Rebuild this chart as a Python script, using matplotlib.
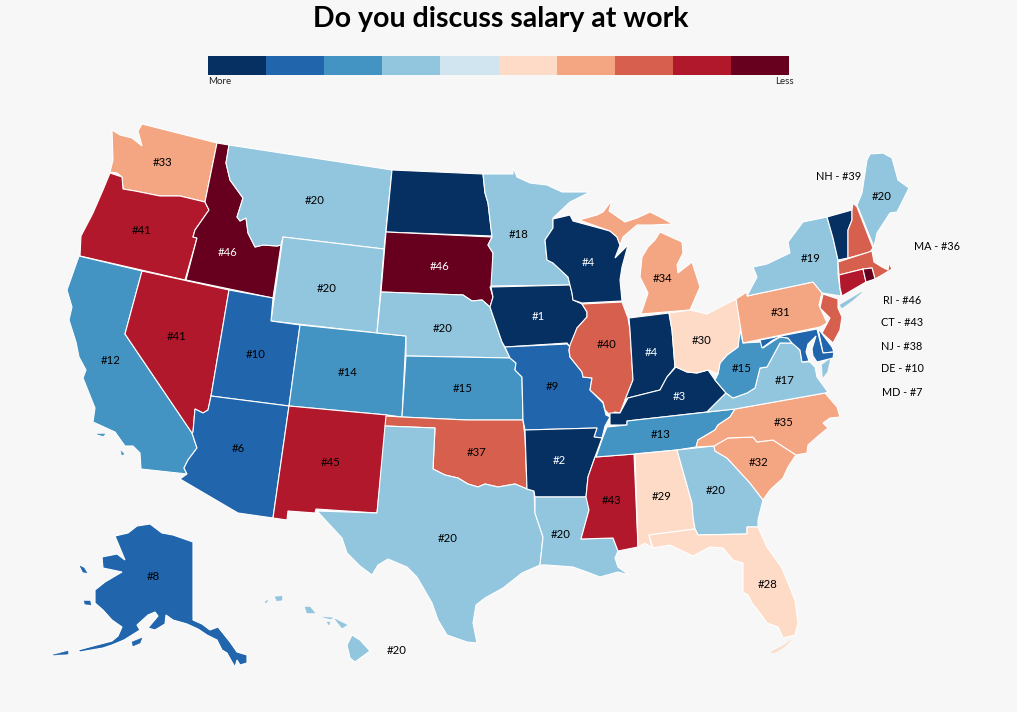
import matplotlib
matplotlib.use("Agg")
import matplotlib.pyplot as plt

title = "Do you discuss salary at work"
scale_colors = ["#053061", "#2166ac", "#4393c3", "#92c5de", "#d1e5f0",
                "#fddbc7", "#f4a582", "#d6604d", "#b2182b", "#67001f"]
scale_tops = [5, 11, 16, 21, 26, 30, 35, 40, 45, 50]
bg = "#f7f7f7"

# rank of each state
ranks = {
    "WA": 33, "OR": 41, "CA": 12, "NV": 41, "ID": 46, "MT": 20, "WY": 20, "UT": 10,
    "AZ": 6, "CO": 14, "NM": 45, "ND": 4, "SD": 46, "NE": 20, "KS": 15, "OK": 37,
    "TX": 20, "MN": 18, "IA": 1, "MO": 9, "AR": 2, "LA": 20, "WI": 4, "IL": 40,
    "MS": 43, "MI": 34, "IN": 4, "KY": 3, "TN": 13, "AL": 29, "OH": 30, "GA": 20,
    "FL": 28, "SC": 32, "NC": 35, "VA": 17, "WV": 15, "PA": 31, "NY": 19, "VT": 4,
    "NH": 39, "ME": 20, "MA": 36, "CT": 43, "RI": 46, "NJ": 38, "DE": 10, "MD": 7,
    "AK": 8, "HI": 20,
}

# state outlines, traced in picture pixels
outlines = {
    "WA": [[(142,124),(217,143),(205,202),(180,196),(160,196),(135,191),(123,189),(122,177),(117,173),(110,172),(113,160),(112,130),(120,135),(132,138),(142,146),(138,131)]],
    "OR": [[(110,173),(122,177),(123,189),(135,191),(160,196),(180,196),(205,202),(209,210),(195,230),(193,237),(197,238),(185,280),(80,256),(81,236),(93,213),(103,190)]],
    "CA": [[(79,256),(142,271),(125,334),(192,433),(197,448),(188,460),(184,468),(187,474),(141,469),(140,453),(133,446),(125,446),(115,432),(93,422),(95,408),(83,378),(86,370),(79,357),(76,342),(69,320),(72,307),(67,290)],
           [(97,434),(105,434),(103,436)],
           [(121,451),(124,454),(122,455)]],
    "NV": [[(142,271),(229,290),(211,396),(208,410),(203,413),(195,409),(193,432),(192,433),(125,334)]],
    "ID": [[(217,143),(229,145),(226,163),(230,180),(243,198),(237,217),(240,221),(246,218),(248,233),(255,247),(263,245),(277,246),(281,245),(273,298),(186,280),(197,238),(193,237),(195,230),(209,210),(205,202)]],
    "MT": [[(229,145),(392,170),(384,249),(283,237),(281,245),(277,246),(263,245),(255,247),(248,233),(246,218),(240,221),(237,217),(243,198),(230,180),(226,163)]],
    "WY": [[(283,237),(384,249),(377,333),(271,321)]],
    "UT": [[(229,290),(273,298),(271,321),(300,325),(289,406),(211,396)]],
    "AZ": [[(211,396),(289,406),(273,518),(238,513),(180,479),(187,474),(184,468),(188,460),(197,448),(192,433),(193,432),(195,409),(203,413),(208,410)]],
    "CO": [[(300,325),(377,333),(406,336),(402,417),(387,415),(289,406)]],
    "NM": [[(289,406),(387,415),(386,426),(377,513),(316,509),(315,513),(288,511),(287,520),(273,518)]],
    "ND": [[(392,170),(483,174),(485,193),(488,203),(492,236),(386,232)]],
    "SD": [[(386,232),(492,237),(488,245),(493,253),(494,285),(490,287),(493,297),(490,307),(482,300),(472,301),(463,295),(381,292)]],
    "NE": [[(381,292),(463,295),(472,301),(482,300),(490,307),(502,342),(505,348),(510,358),(406,356),(406,336),(377,333)]],
    "KS": [[(406,356),(510,358),(516,363),(515,370),(522,377),(523,420),(467,420),(402,417)]],
    "OK": [[(386,416),(402,417),(467,420),(523,420),(525,437),(527,489),(515,484),(498,487),(485,484),(478,487),(468,484),(458,478),(445,475),(433,469),(435,428),(385,426)]],
    "TX": [[(385,426),(435,428),(433,469),(445,475),(458,478),(468,484),(478,487),(485,484),(498,487),(515,484),(527,489),(534,491),(535,513),(543,537),(540,565),(522,573),(503,588),(485,598),(476,605),(473,623),(477,643),(467,642),(447,635),(438,620),(432,603),(417,577),(407,567),(388,559),(378,565),(372,575),(360,566),(347,553),(342,538),(317,511),(377,513)]],
    "MN": [[(483,174),(513,174),(513,167),(517,177),(530,183),(547,185),(562,192),(590,192),(570,202),(553,218),(553,228),(545,240),(547,260),(553,263),(568,277),(570,285),(491,286),(493,253),(488,245),(492,237),(488,203),(485,193)]],
    "IA": [[(491,287),(570,285),(572,293),(573,300),(582,304),(587,312),(587,317),(577,328),(570,347),(567,343),(505,347),(502,342),(490,307),(493,297)]],
    "MO": [[(505,347),(567,344),(570,347),(569,350),(570,357),(582,372),(583,377),(592,378),(590,390),(603,403),(606,415),(610,417),(605,426),(602,438),(594,437),(597,428),(525,430),(523,420),(522,377),(515,370),(516,363),(510,358)]],
    "AR": [[(525,430),(597,428),(594,437),(602,438),(595,457),(588,477),(586,497),(535,497),(534,491),(527,489)]],
    "LA": [[(535,497),(587,497),(589,510),(581,539),(613,538),(618,551),(615,558),(618,567),(629,575),(618,572),(600,577),(587,572),(573,567),(547,565),(540,565),(543,537),(535,513)]],
    "WI": [[(553,219),(570,215),(573,221),(610,231),(617,237),(620,245),(615,258),(628,245),(622,267),(620,280),(622,301),(582,303),(573,300),(572,293),(570,285),(568,277),(553,263),(547,260),(545,240),(553,228)]],
    "IL": [[(582,304),(622,302),(628,318),(630,330),(633,380),(625,400),(620,413),(615,412),(610,415),(605,410),(603,402),(590,390),(592,378),(583,377),(582,372),(570,357),(569,350),(570,345),(577,328),(587,317),(587,312)]],
    "MS": [[(595,457),(634,454),(638,547),(618,551),(613,538),(581,539),(589,510),(586,497),(588,477)]],
    "MI": [[(579,220),(597,215),(603,212),(612,200),(609,211),(625,222),(637,218),(650,212),(660,217),(673,224),(652,225),(637,225),(623,237),(620,245),(617,237),(610,231)],
           [(660,232),(682,242),(683,253),(677,265),(678,273),(692,262),(700,287),(690,310),(641,314),(648,293),(640,277),(642,257),(648,247),(655,240)]],
    "IN": [[(629,318),(669,313),(672,330),(675,367),(667,377),(660,390),(652,392),(640,395),(628,398),(625,400),(633,380),(630,330)]],
    "KY": [[(610,413),(620,413),(628,398),(640,395),(652,392),(660,390),(667,377),(676,367),(687,372),(697,373),(708,370),(715,380),(726,393),(707,412),(627,421),(627,425),(610,425)]],
    "TN": [[(607,427),(627,425),(627,421),(735,409),(730,417),(718,425),(715,430),(698,440),(696,447),(677,450),(635,454),(596,457),(603,437)]],
    "AL": [[(635,454),(677,450),(692,503),(693,517),(695,529),(649,535),(652,548),(645,543),(638,547)]],
    "GA": [[(677,450),(714,446),(715,451),(727,458),(750,483),(763,500),(758,520),(758,527),(747,527),(747,534),(698,535),(695,529),(693,517),(692,503)]],
    "FL": [[(649,535),(695,529),(698,535),(747,534),(747,527),(758,527),(767,547),(782,568),(795,600),(798,623),(795,635),(783,638),(778,627),(767,623),(760,613),(752,603),(748,595),(743,592),(743,563),(733,560),(723,548),(710,547),(693,556),(670,545),(653,548)],
           [(771,652),(783,646),(791,640),(784,647),(774,653)]],
    "SC": [[(714,446),(728,438),(753,437),(757,442),(773,440),(796,455),(788,467),(783,478),(770,490),(763,500),(750,483),(727,458),(715,451)]],
    "NC": [[(735,409),(825,393),(837,407),(840,417),(830,418),(823,423),(828,428),(817,437),(808,445),(807,453),(796,455),(773,440),(757,442),(753,437),(728,438),(714,446),(696,447),(698,440),(715,430),(718,425),(730,417)]],
    "VA": [[(707,412),(726,393),(733,398),(747,393),(755,388),(760,368),(767,367),(780,343),(792,343),(800,350),(802,362),(810,362),(815,367),(817,377),(825,388),(828,392),(825,393),(735,409)],
           [(830,359),(822,365),(823,377),(827,372)]],
    "WV": [[(739,325),(743,343),(761,342),(763,348),(775,340),(780,337),(788,338),(792,343),(780,343),(767,367),(760,368),(755,388),(747,393),(733,398),(726,393),(715,380),(718,374),(720,363),(727,355),(738,347)]],
    "OH": [[(669,313),(690,310),(707,314),(736,299),(741,325),(738,347),(727,355),(720,363),(718,374),(708,370),(697,373),(687,372),(676,367),(675,367),(672,330)]],
    "PA": [[(736,299),(747,292),(747,296),(813,282),(822,293),(819,305),(827,323),(820,327),(743,343)]],
    "NY": [[(747,296),(757,277),(753,267),(767,264),(790,253),(788,242),(803,222),(827,217),(833,238),(838,260),(838,274),(841,296),(822,293),(813,282)],
           [(840,305),(862,292),(853,300),(842,308)]],
    "VT": [[(827,217),(852,210),(852,220),(848,230),(848,258),(838,260),(833,238)]],
    "NH": [[(853,203),(857,207),(873,248),(870,252),(848,258),(848,230),(852,220),(852,210)]],
    "ME": [[(857,205),(862,193),(867,160),(870,154),(883,153),(892,158),(898,180),(909,188),(897,212),(890,213),(877,233),(874,247)]],
    "MA": [[(838,262),(872,251),(874,262),(882,267),(888,270),(889,263),(892,269),(882,275),(875,279),(872,268),(863,269),(839,275)]],
    "CT": [[(839,275),(863,269),(866,282),(842,296),(840,288)]],
    "RI": [[(863,269),(872,268),(875,279),(866,282)]],
    "NJ": [[(823,294),(838,299),(838,308),(842,317),(840,330),(833,343),(822,333),(830,318),(820,308)]],
    "DE": [[(818,328),(823,335),(832,347),(834,352),(823,353)]],
    "MD": [[(760,340),(817,329),(823,353),(834,352),(833,358),(817,362),(813,356),(812,349),(816,336),(808,344),(806,352),(809,361),(802,362),(800,350),(792,343),(788,338),(780,337),(773,340),(762,348)]],
    "AK": [[(115,536),(128,533),(137,526),(150,524),(162,533),(173,535),(193,542),(193,620),(202,624),(210,630),(218,627),(222,632),(230,642),(237,652),(247,655),(247,663),(240,665),(237,660),(235,667),(232,662),(227,653),(222,650),(217,640),(207,635),(198,629),(187,624),(173,620),(166,615),(165,624),(155,630),(148,628),(158,616),(155,612),(148,615),(137,625),(140,630),(124,640),(112,645),(103,648),(80,652),(78,650),(93,646),(112,641),(118,636),(122,627),(112,620),(103,610),(95,603),(95,590),(105,582),(122,572),(103,568),(102,557),(117,554),(125,560)],
           [(132,642),(142,638),(140,643),(133,646)],
           [(84,601),(90,601),(91,605),(85,604)],
           [(80,566),(84,568),(87,573),(83,572)],
           [(53,655),(68,651),(68,654),(55,655)]],
    "HI": [[(347,645),(352,635),(360,640),(370,651),(355,662),(350,658)],
           [(335,619),(347,625),(342,628)],
           [(323,617),(333,618),(330,619)],
           [(327,622),(330,622),(329,625)],
           [(305,607),(310,607),(315,613),(307,613)],
           [(275,597),(282,596),(282,600),(277,601)],
           [(265,602),(268,600),(266,603)]],
}

# where the rank labels sit
labels = {
    "WA": (163,163), "OR": (142,231), "CA": (111,360), "NV": (177,336), "ID": (228,252),
    "MT": (315,200), "WY": (327,288), "UT": (256,354), "AZ": (238,449), "CO": (348,372),
    "NM": (331,462), "SD": (440,267), "NE": (443,328), "KS": (463,388), "OK": (477,452),
    "TX": (448,538), "MN": (519,235), "IA": (538,316), "MO": (552,386), "AR": (559,460),
    "LA": (561,535), "WI": (588,262), "IL": (607,344), "MS": (612,501), "MI": (663,279),
    "IN": (651,353), "KY": (679,397), "TN": (661,434), "AL": (662,496), "OH": (702,341),
    "GA": (716,491), "FL": (768,585), "SC": (759,463), "NC": (784,423), "VA": (785,381),
    "WV": (742,368), "PA": (781,313), "NY": (811,258), "ME": (882,196), "AK": (153,576),
    "HI": (397,651),
}
white_labels = ["ID", "SD", "IA", "AR", "WI", "IN", "KY"]

# small states get their label outside the map
side_labels = {"NH": (839,177), "MA": (937,246), "RI": (902,300), "CT": (902,322),
               "NJ": (902,347), "DE": (902,369), "MD": (902,393)}


def state_color(rank):
    for top, color in zip(scale_tops, scale_colors):
        if rank <= top:
            return color
    return scale_colors[-1]


plt.rcParams["font.family"] = ["Lato", "DejaVu Sans"]
fig = plt.figure(figsize=(10.17, 7.12), dpi=100, facecolor=bg)
ax = fig.add_axes([0, 0, 1, 1])
ax.set_xlim(0, 1017)
ax.set_ylim(712, 0)
ax.axis("off")

for state, parts in outlines.items():
    color = state_color(ranks[state])
    for i, part in enumerate(parts):
        xs = [p[0] for p in part]
        ys = [p[1] for p in part]
        # islands get no white edge, it would eat them
        if i == 0 or state == "MI":
            ax.fill(xs, ys, facecolor=color, edgecolor="white", linewidth=0.8)
        else:
            ax.fill(xs, ys, facecolor=color, edgecolor=color, linewidth=0.3)

for state, (x, y) in labels.items():
    color = "white" if state in white_labels else "black"
    ax.text(x, y, "#%d" % ranks[state], ha="center", va="center", fontsize=8.2, color=color)

for state, (x, y) in side_labels.items():
    ax.text(x, y, "%s - #%d" % (state, ranks[state]), ha="center", va="center", fontsize=7.8, color="black")

# colour scale on top
for i, color in enumerate(scale_colors):
    ax.bar(208 + 58.1 * i, 19, width=58.1, bottom=56, align="edge", color=color, linewidth=0)
ax.text(208, 82, "More", ha="left", va="center", fontsize=7, color="#222222")
ax.text(794, 82, "Less", ha="right", va="center", fontsize=7, color="#222222")

ax.text(501, 19, title, ha="center", va="center", fontsize=20.5, fontweight="bold", color="black")

plt.savefig("out.png", dpi=100, facecolor=bg)
